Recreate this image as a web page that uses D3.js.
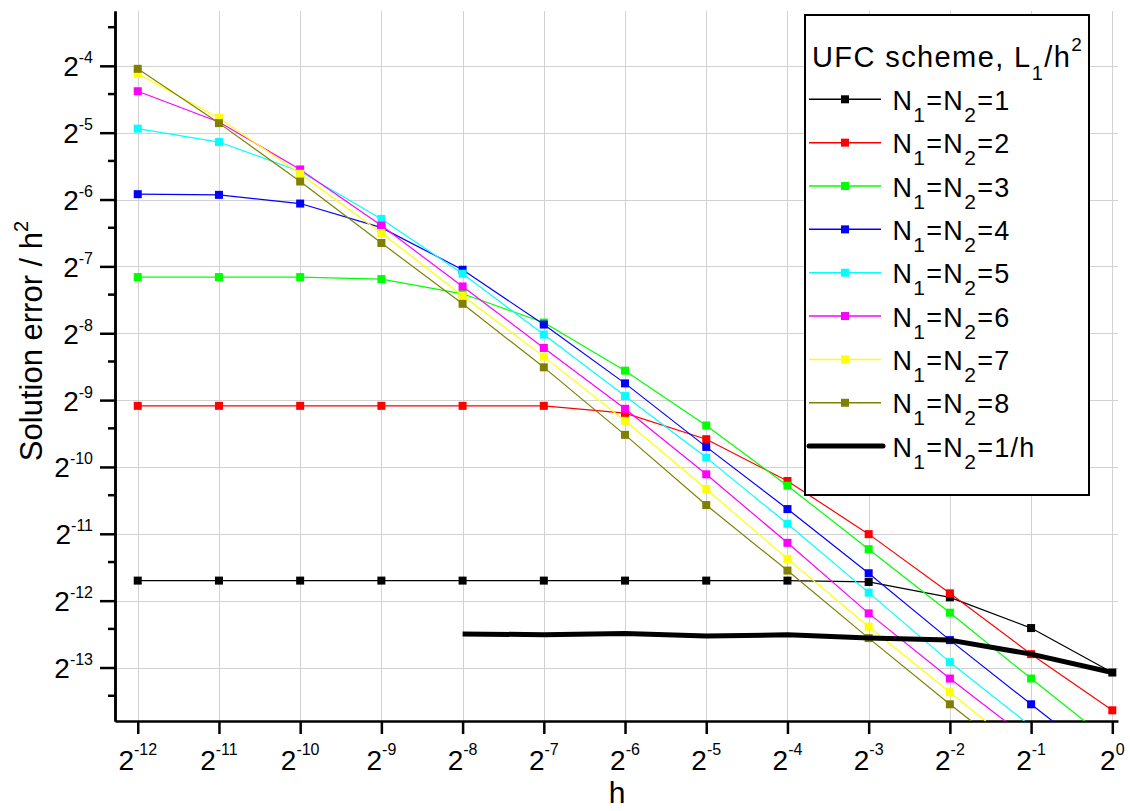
<!DOCTYPE html>
<html><head><meta charset="utf-8">
<script src="https://cdn.jsdelivr.net/npm/d3@7"></script>
<style>
body{margin:0;background:#fff}
text{font-family:"Liberation Sans",Arial,sans-serif;fill:#000}
</style>
</head><body>
<svg id="c" width="1130" height="811"></svg>
<script>
// ---- data (exponents of 2) ----
const hExp = [-12,-11,-10,-9,-8,-7,-6,-5,-4,-3,-2,-1,0];
const xTickExp = [-12,-11,-10,-9,-8,-7,-6,-5,-4,-3,-2,-1,0];
const yTickExp = [-13,-12,-11,-10,-9,-8,-7,-6,-5,-4];
const yMinorExp = [-14,-13,-12,-11,-10,-9,-8,-7,-6,-5,-4]; // minor ticks at 1.5*2^k
const seriesLabels = ["1","2","3","4","5","6","7","8","1/h"];
const seriesColors = ["#000000","#ff0000","#00ff00","#0000ff","#00ffff","#ff00ff","#ffff00","#808000","#000000"];
const n1 = [-11.70,-11.70,-11.70,-11.70,-11.70,-11.70,-11.70,-11.70,-11.70,-11.72,-11.95,-12.41,-13.075];
const n2 = [-9.086,-9.086,-9.086,-9.086,-9.086,-9.086,-9.195,-9.585,-10.21,-11.005,-11.89,-12.80,-13.64];
const n3 = [-7.16,-7.16,-7.16,-7.19,-7.41,-7.84,-8.56,-9.38,-10.28,-11.23,-12.18,-13.165,-14.13];
const n4 = [-5.92,-5.93,-6.06,-6.42,-7.05,-7.87,-8.75,-9.70,-10.63,-11.59,-12.59,-13.55,-14.5];
const n5 = [-4.94,-5.14,-5.58,-6.29,-7.11,-8.02,-8.94,-9.86,-10.85,-11.88,-12.92,-13.88,null];
const n6 = [-4.38,-4.84,-5.55,-6.39,-7.30,-8.22,-9.13,-10.11,-11.135,-12.19,-13.165,-14.1,null];
const n7 = [-4.12,-4.78,-5.615,-6.50,-7.44,-8.35,-9.31,-10.33,-11.375,-12.39,-13.37,-14.35,null];
const n8 = [-4.045,-4.857,-5.73,-6.65,-7.56,-8.51,-9.52,-10.57,-11.55,-12.56,-13.55,-14.5,null];
const nInv = [null,null,null,null,-12.497,-12.51,-12.49,-12.53,-12.51,-12.56,-12.59,-12.80,-13.075];
const seriesValues = [n1,n2,n3,n4,n5,n6,n7,n8,nInv];

// ---- layout ----
const svg = d3.select("#c");
const pL = 115, pR = 1118, pT = 11, pB = 721;
const x = d3.scaleLog().base(2).domain([Math.pow(2,-12.28), Math.pow(2,0.07)]).range([pL,pR]);
const y = d3.scaleLog().base(2).domain([Math.pow(2,-13.8), Math.pow(2,-3.18)]).range([pB,pT]);

svg.append("rect").attr("width",1130).attr("height",811).attr("fill","#fff");

// grid
const grid = svg.append("g").attr("stroke","#d2d2d2").attr("stroke-width",1);
xTickExp.forEach(e=>{
  const px = Math.round(x(Math.pow(2,e)))+0.5;
  grid.append("line").attr("x1",px).attr("x2",px).attr("y1",pT).attr("y2",pB);
});
yTickExp.forEach(e=>{
  const py = Math.round(y(Math.pow(2,e)))+0.5;
  grid.append("line").attr("x1",pL).attr("x2",pR).attr("y1",py).attr("y2",py);
});

// axes
const xAxis = d3.axisBottom(x).tickValues(xTickExp.map(e=>Math.pow(2,e))).tickSize(13).tickSizeOuter(0).tickFormat("");
const gx = svg.append("g").attr("transform",`translate(0,${pB})`).call(xAxis);
const yAxis = d3.axisLeft(y).tickValues(yTickExp.map(e=>Math.pow(2,e))).tickSize(15).tickSizeOuter(0).tickFormat("");
const gy = svg.append("g").attr("transform",`translate(${pL},0)`).call(yAxis);
const yMinor = d3.axisLeft(y).tickValues(yMinorExp.map(e=>1.5*Math.pow(2,e)).filter(v=>v>=y.domain()[0]&&v<=y.domain()[1])).tickSize(7).tickSizeOuter(0).tickFormat("");
const gym = svg.append("g").attr("transform",`translate(${pL},0)`).call(yMinor);
[gx,gy,gym].forEach(g=>{
  g.selectAll("path,line").attr("stroke","#000").attr("stroke-width",2.5);
});

// tick labels
xTickExp.forEach(e=>{
  const t = svg.append("text").attr("x",x(Math.pow(2,e))).attr("y",770).attr("text-anchor","middle");
  t.append("tspan").attr("font-size",28).text("2");
  t.append("tspan").attr("font-size",16).attr("dy",-15).text(String(e));
});
yTickExp.forEach(e=>{
  const t = svg.append("text").attr("x",93).attr("y",y(Math.pow(2,e))+10.5).attr("text-anchor","end");
  t.append("tspan").attr("font-size",28).text("2");
  t.append("tspan").attr("font-size",16).attr("dy",-13).text(String(e));
});

// axis titles
svg.append("text").attr("x",617).attr("y",803).attr("text-anchor","middle").attr("font-size",30).text("h");
const yt = svg.append("text").attr("transform","translate(42,341) rotate(-90)").attr("text-anchor","middle");
yt.append("tspan").attr("font-size",31).text("Solution error / h");
yt.append("tspan").attr("font-size",20).attr("dy",-14).text("2");

// series
svg.append("clipPath").attr("id","plotclip").append("rect")
  .attr("x",pL).attr("y",pT).attr("width",pR-pL).attr("height",pB-pT);
const plot = svg.append("g").attr("clip-path","url(#plotclip)");
const line = d3.line().defined(d=>d.v!==null).x(d=>x(Math.pow(2,d.e))).y(d=>y(Math.pow(2,d.v)));
seriesValues.forEach((vals,i)=>{
  const data = hExp.map((e,j)=>({e:e,v:vals[j]}));
  const thick = i===8;
  plot.append("path").datum(data).attr("d",line).attr("fill","none")
    .attr("stroke",seriesColors[i]).attr("stroke-width",thick?5:1.2)
    .attr("stroke-linejoin","round");
  if(!thick){
    plot.selectAll(null).data(data.filter(d=>d.v!==null)).enter().append("rect")
      .attr("x",d=>x(Math.pow(2,d.e))-4).attr("y",d=>y(Math.pow(2,d.v))-4)
      .attr("width",8).attr("height",8).attr("fill",seriesColors[i]);
  }
});

// legend
const lg = svg.append("g");
lg.append("rect").attr("x",805).attr("y",15).attr("width",284).attr("height",480)
  .attr("fill","#fff").attr("stroke","#000").attr("stroke-width",2);
const tt = lg.append("text").attr("x",812).attr("y",66.5).attr("letter-spacing",1.4);
tt.append("tspan").attr("font-size",29).text("UFC scheme, L");
tt.append("tspan").attr("font-size",20).attr("dy",13).text("1");
tt.append("tspan").attr("font-size",29).attr("dy",-13).text("/h");
tt.append("tspan").attr("font-size",19).attr("dy",-16).text("2");
seriesLabels.forEach((lab,i)=>{
  const ly = 99.3 + i*43.35;
  const thick = i===8;
  lg.append("line").attr("x1",809).attr("x2",thick?883:881).attr("y1",ly).attr("y2",ly)
    .attr("stroke",seriesColors[i]).attr("stroke-width",thick?5:1.5).attr("stroke-linecap",thick?"round":"butt");
  if(!thick){
    lg.append("rect").attr("x",845-4).attr("y",ly-4).attr("width",8).attr("height",8).attr("fill",seriesColors[i]);
  }
  const t = lg.append("text").attr("x",892.5).attr("y",ly+10.7).attr("letter-spacing",1.3);
  t.append("tspan").attr("font-size",27).text("N");
  t.append("tspan").attr("font-size",21).attr("dy",12).text("1");
  t.append("tspan").attr("font-size",27).attr("dy",-12).text("=N");
  t.append("tspan").attr("font-size",21).attr("dy",12).text("2");
  t.append("tspan").attr("font-size",27).attr("dy",-12).text("="+lab);
});
</script>
</body></html>
